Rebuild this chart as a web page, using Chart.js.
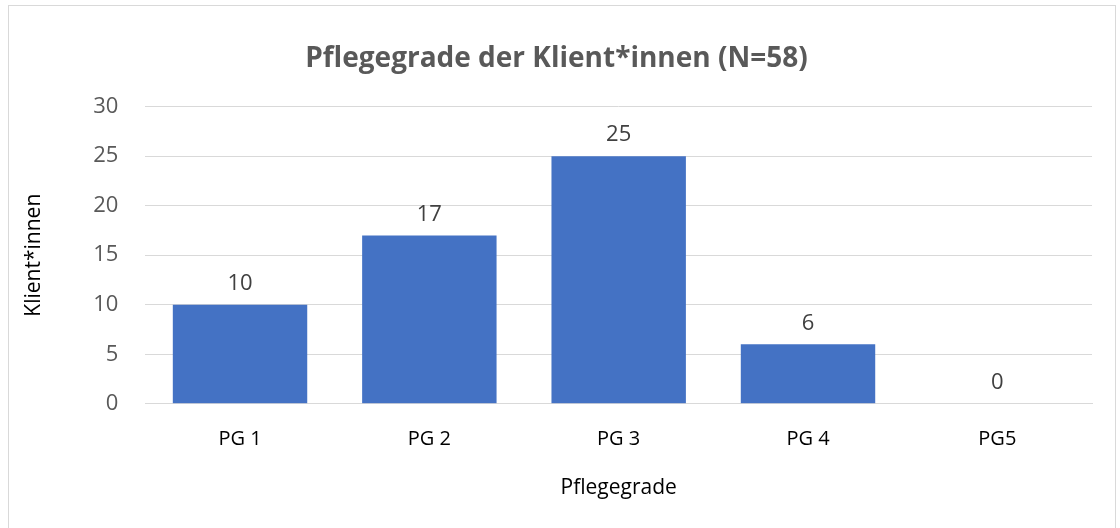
<!DOCTYPE html>
<html>
<head>
<meta charset="utf-8">
<script src="https://cdn.jsdelivr.net/npm/chart.js@4"></script>
<style>
  html, body { margin: 0; padding: 0; background: #fff; }
  #wrap { position: relative; width: 1120px; height: 528px; }
  #rahmen { position: absolute; left: 8px; top: 5px; width: 1108px; height: 530px; border: 1px solid #d9d9d9; box-sizing: border-box; }
  canvas { position: absolute; left: 0; top: 0; }
</style>
</head>
<body>
<div id="wrap">
  <div id="rahmen"></div>
  <canvas id="chart" width="1120" height="528"></canvas>
</div>
<script>
const kategorien = ["PG 1", "PG 2", "PG 3", "PG 4", "PG5"];
const klienten = [10, 17, 25, 6, 0];
const yTicks = [0, 5, 10, 15, 20, 25, 30];

const schrift = "'Open Sans', 'Liberation Sans', sans-serif";

// Werte über den Balken schreiben
const wertLabels = {
  id: 'wertLabels',
  afterDatasetsDraw(chart) {
    const ctx = chart.ctx;
    const meta = chart.getDatasetMeta(0);
    ctx.save();
    ctx.fillStyle = '#404040';
    ctx.font = '22px ' + schrift;
    ctx.textAlign = 'center';
    ctx.textBaseline = 'bottom';
    meta.data.forEach((bar, i) => {
      ctx.fillText(String(klienten[i]), bar.x, bar.y - 10);
    });
    ctx.restore();
  }
};

new Chart(document.getElementById('chart').getContext('2d'), {
  type: 'bar',
  data: {
    labels: kategorien,
    datasets: [{
      data: klienten,
      backgroundColor: '#4472C4',
      categoryPercentage: 0.71,
      barPercentage: 1
    }]
  },
  options: {
    responsive: false,
    animation: false,
    layout: { padding: { left: 21, right: 28, top: 22, bottom: 27 } },
    plugins: {
      legend: { display: false },
      tooltip: { enabled: false },
      title: {
        display: true,
        text: 'Pflegegrade der Klient*innen (N=58)',
        color: '#595959',
        font: { family: schrift, size: 28, weight: 'bold' },
        padding: { top: 20, bottom: 31 }
      }
    },
    scales: {
      x: {
        grid: { display: false, drawTicks: false },
        border: { color: '#d9d9d9', width: 1 },
        ticks: { color: '#000', font: { family: schrift, size: 20 }, padding: 23 },
        title: {
          display: true, text: 'Pflegegrade', color: '#000',
          font: { family: schrift, size: 21 }, padding: { top: 2, bottom: 0 }
        }
      },
      y: {
        min: 0, max: 30,
        afterBuildTicks: axis => { axis.ticks = yTicks.map(v => ({ value: v })); },
        grid: { color: '#d9d9d9', drawTicks: false },
        border: { display: false },
        ticks: { color: '#595959', font: { family: schrift, size: 22 }, padding: 27 },
        title: {
          display: true, text: 'Klient*innen', color: '#000',
          font: { family: schrift, size: 21 }, padding: { top: 0, bottom: 20 }
        }
      }
    }
  },
  plugins: [wertLabels]
});
</script>
</body>
</html>
